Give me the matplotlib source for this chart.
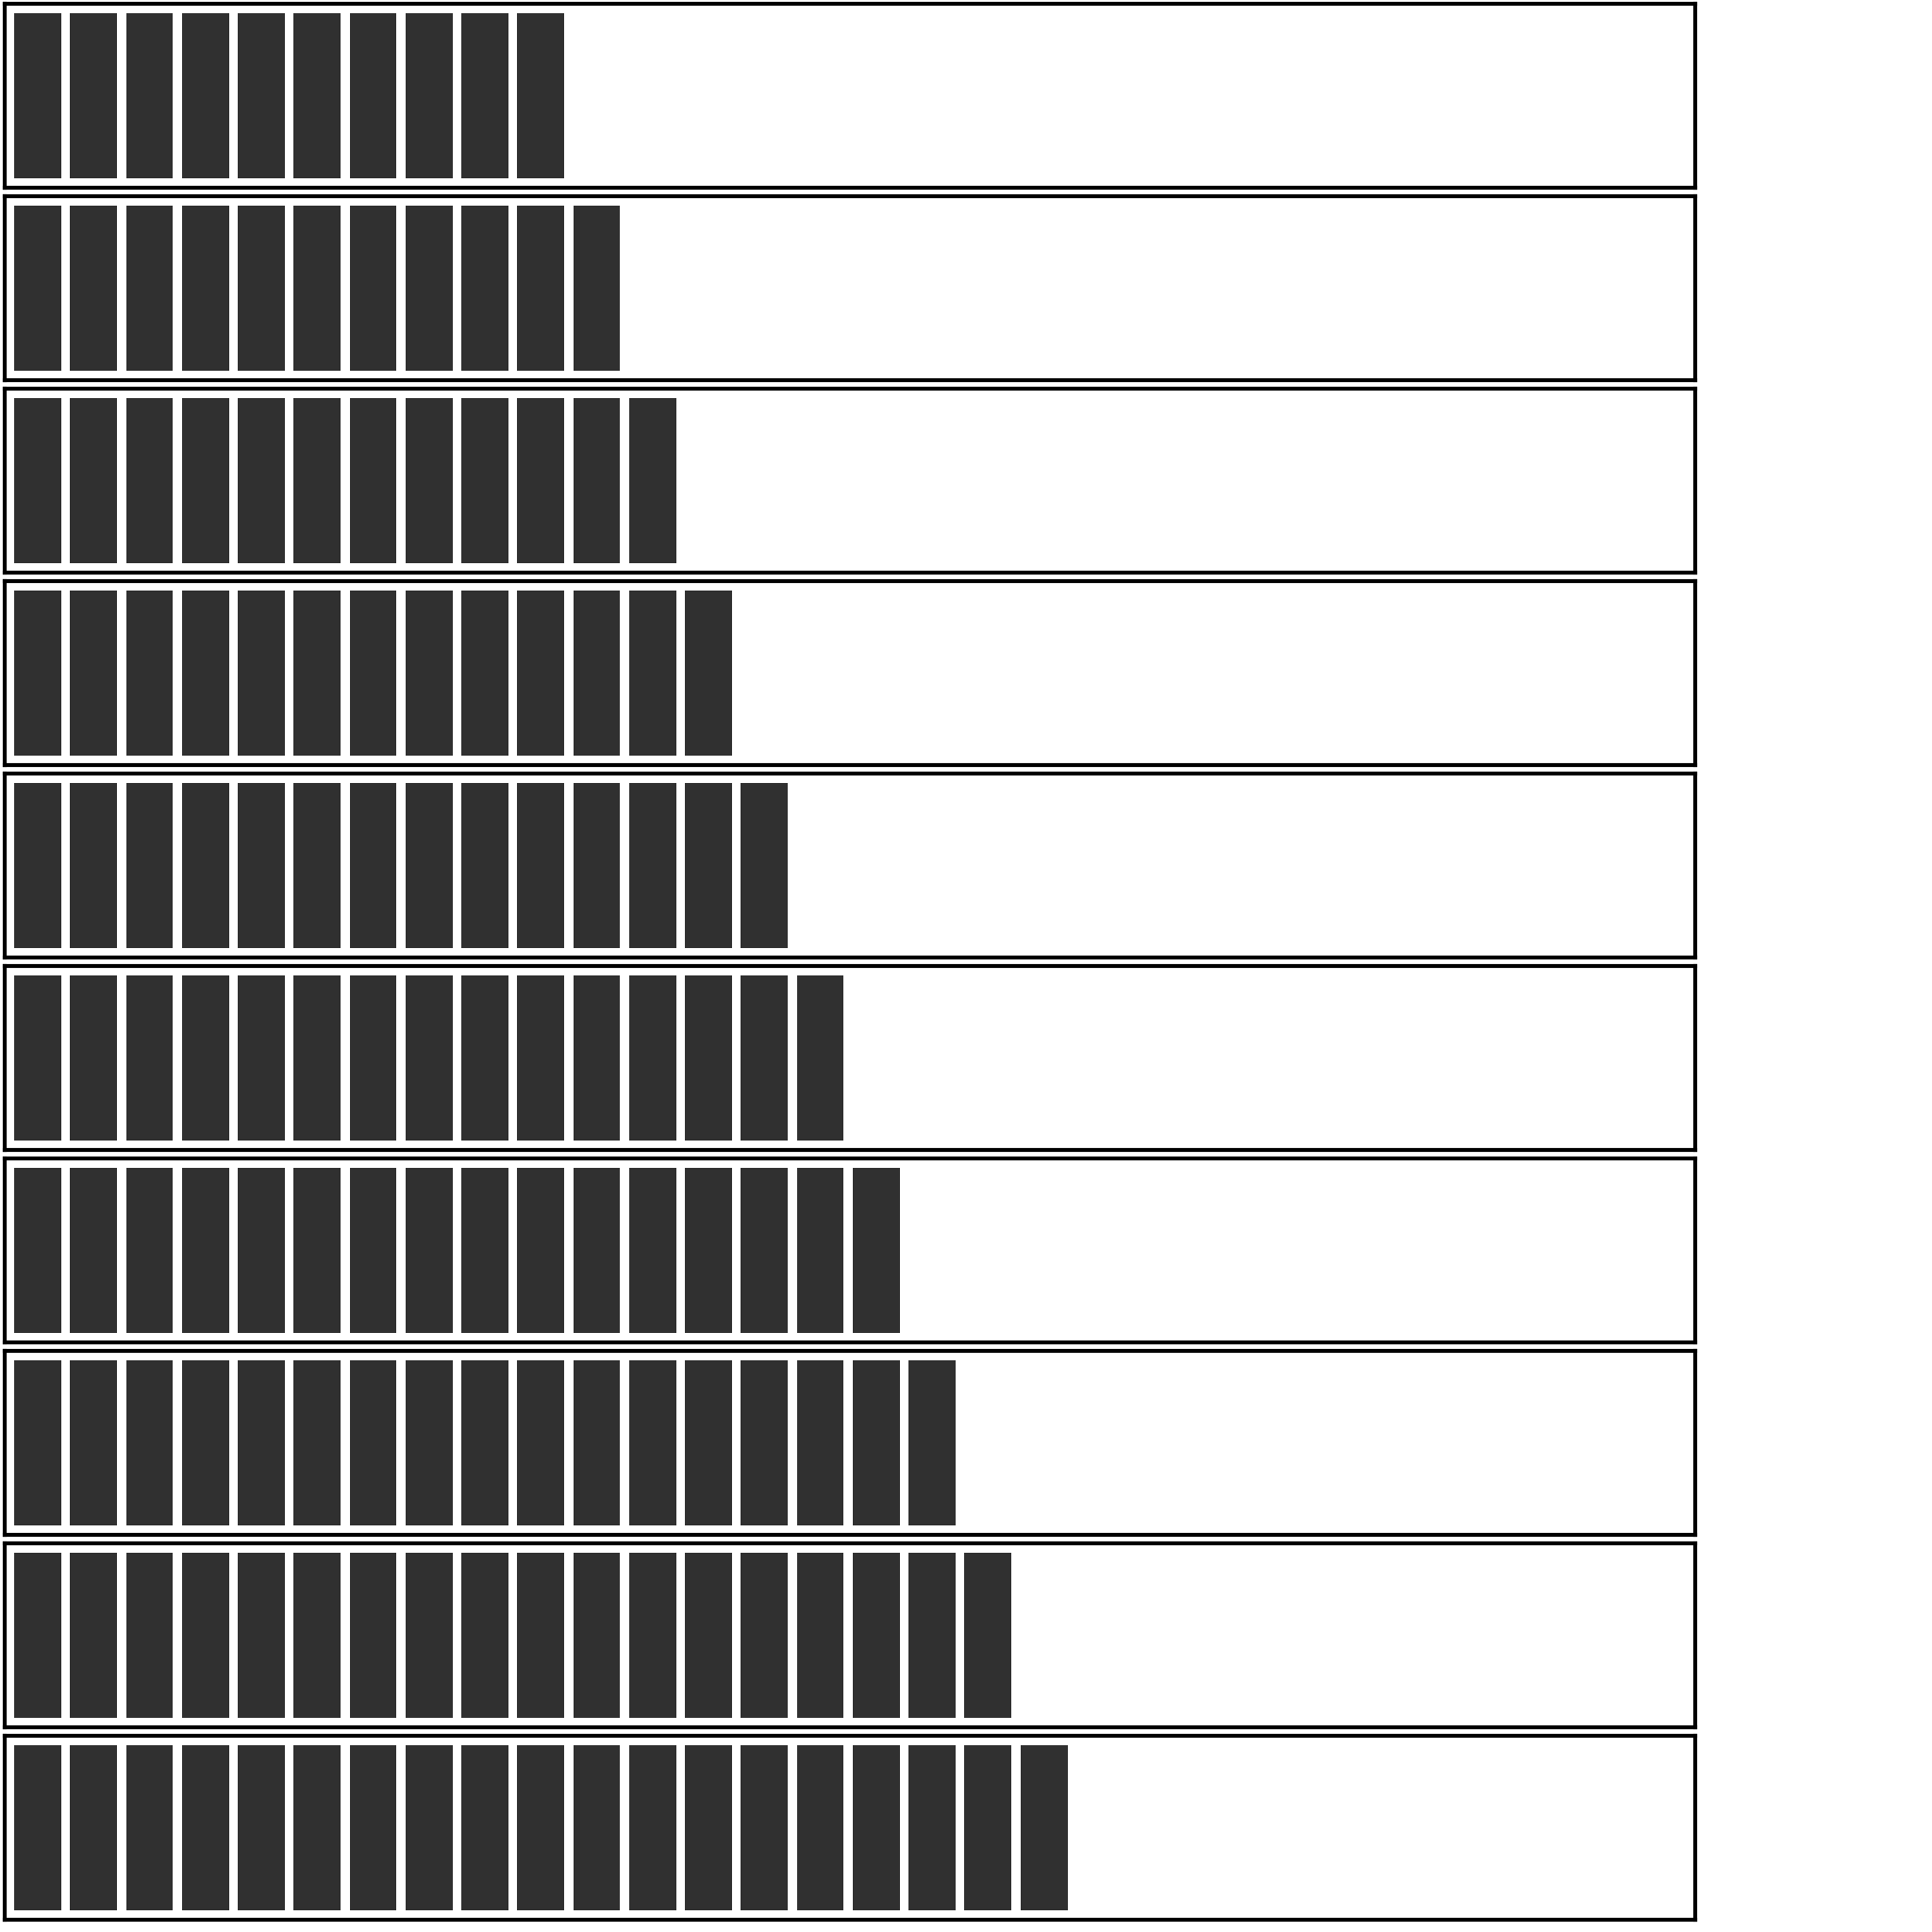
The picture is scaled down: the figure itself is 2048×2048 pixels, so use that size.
import matplotlib
matplotlib.use('Agg')
import matplotlib.pyplot as plt

# number of bars in each panel, top to bottom
row_counts = [10, 11, 12, 13, 14, 15, 16, 17, 18, 19]
bar_height = 1.0

W = H = 2048
fig = plt.figure(figsize=(10.24, 10.24), dpi=200)

left_px, right_px = 5, 1797
top_px, pitch_px, box_h_px = 4, 204.0, 195

for k, n in enumerate(row_counts):
    y_top = top_px + k * pitch_px
    ax = fig.add_axes([left_px / W, 1 - (y_top + box_h_px) / H,
                       (right_px - left_px) / W, box_h_px / H])
    ax.bar(range(n), [bar_height] * n, width=0.84, bottom=0,
           color='#303030', edgecolor='none')
    ax.set_xlim(-0.59, 29.65)
    ax.set_ylim(-0.06, 1.06)
    ax.set_xticks([])
    ax.set_yticks([])
    for s in ax.spines.values():
        s.set_linewidth(1.5)
        s.set_color('black')

plt.savefig('out.png', dpi=200)
